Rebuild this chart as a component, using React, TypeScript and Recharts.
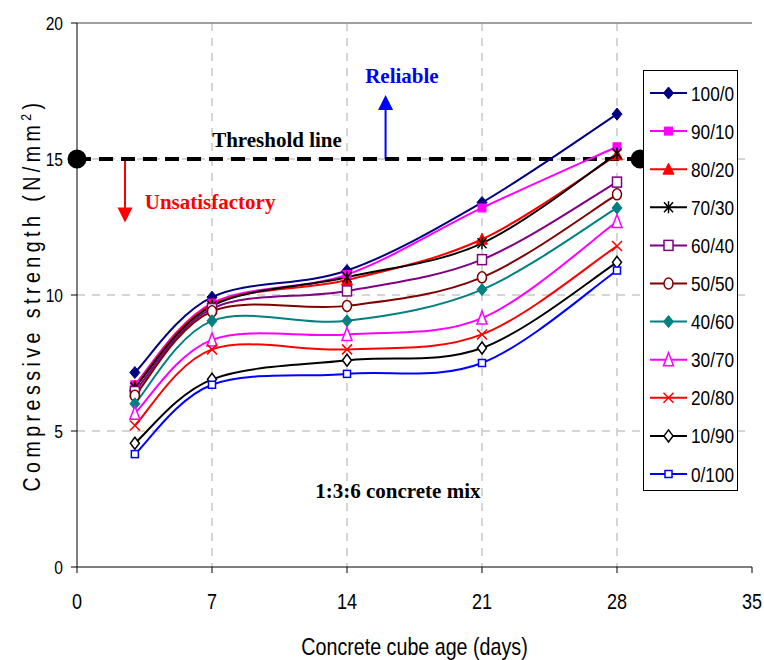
import React from "react";
import {
  CartesianGrid,
  Legend,
  Line,
  LineChart,
  ReferenceDot,
  ReferenceLine,
  XAxis,
  YAxis,
} from "recharts";

// curing age of the cubes (days)
const DAYS = [3, 7, 14, 21, 28];
const X_TICKS = [0, 7, 14, 21, 28, 35];
const Y_TICKS = [0, 5, 10, 15, 20];

// mix ratios, in legend order
const MIXES = ["100/0", "90/10", "80/20", "70/30", "60/40", "50/50", "40/60", "30/70", "20/80", "10/90", "0/100"];

// compressive strength (N/mm2) at 3, 7, 14, 21, 28 days
const S_100_0 = [7.15, 9.92, 10.9, 13.4, 16.65];
const S_90_10 = [6.7, 9.7, 10.75, 13.2, 15.45];
const S_80_20 = [6.65, 9.65, 10.55, 12.05, 15.15];
const S_70_30 = [6.6, 9.6, 10.65, 11.9, 15.2];
const S_60_40 = [6.45, 9.5, 10.15, 11.3, 14.15];
const S_50_50 = [6.3, 9.4, 9.6, 10.65, 13.7];
const S_40_60 = [6.0, 9.05, 9.05, 10.2, 13.2];
const S_30_70 = [5.65, 8.35, 8.55, 9.15, 12.7];
const S_20_80 = [5.2, 8.0, 8.0, 8.55, 11.8];
const S_10_90 = [4.55, 6.9, 7.6, 8.05, 11.2];
const S_0_100 = [4.15, 6.7, 7.1, 7.5, 10.9];

const SERIES = [S_100_0, S_90_10, S_80_20, S_70_30, S_60_40, S_50_50, S_40_60, S_30_70, S_20_80, S_10_90, S_0_100];

const COLORS = ["#000080", "#ff00ff", "#ff0000", "#000000", "#800080", "#800000", "#008080", "#ff00ff", "#ff0000", "#000000", "#0000ff"];
const MARKERS = ["diamond", "square", "triangle", "star", "squareOpen", "circleOpen", "diamond", "triangleOpen", "cross", "diamondOpen", "squareSmall"];

// threshold line
const THRESHOLD_DAYS = [0, 29.2];
const THRESHOLD = 15;

const SANS = "'Liberation Sans', Arial, sans-serif";
const SERIF = "'Liberation Serif', 'Times New Roman', serif";
// the original text is set in a narrow face; squeeze Arial horizontally
const SQUEEZE = 0.82;

const chartData = DAYS.map((day, i) => {
  const row: Record<string, number> = { day };
  SERIES.forEach((s, k) => (row[`m${k}`] = s[i]));
  return row;
});

const thresholdData = THRESHOLD_DAYS.map((day) => ({ day, t: THRESHOLD }));

// Excel-style smoothed line (Catmull-Rom as cubic beziers)
const excelSmooth = (context: any) => {
  let xs: number[] = [];
  let ys: number[] = [];
  return {
    areaStart() {},
    areaEnd() {},
    lineStart() {
      xs = [];
      ys = [];
    },
    point(x: number, y: number) {
      xs.push(+x);
      ys.push(+y);
    },
    lineEnd() {
      const n = xs.length;
      if (!n) return;
      context.moveTo(xs[0], ys[0]);
      for (let i = 0; i < n - 1; i++) {
        const a = Math.max(i - 1, 0);
        const d = Math.min(i + 2, n - 1);
        context.bezierCurveTo(
          xs[i] + (xs[i + 1] - xs[a]) / 6,
          ys[i] + (ys[i + 1] - ys[a]) / 6,
          xs[i + 1] - (xs[d] - xs[i]) / 6,
          ys[i + 1] - (ys[d] - ys[i]) / 6,
          xs[i + 1],
          ys[i + 1]
        );
      }
    },
  };
};

function Marker({ kind, x, y, color }: { kind: string; x: number; y: number; color: string }) {
  if (x == null || y == null) return null;
  switch (kind) {
    case "diamond":
      return <path d={`M${x},${y - 6}L${x + 5},${y}L${x},${y + 6}L${x - 5},${y}Z`} fill={color} stroke={color} />;
    case "diamondOpen":
      return <path d={`M${x},${y - 6}L${x + 4.5},${y}L${x},${y + 6}L${x - 4.5},${y}Z`} fill="#fff" stroke={color} strokeWidth={1.5} />;
    case "square":
      return <rect x={x - 4} y={y - 4} width={8} height={8} fill={color} stroke={color} />;
    case "squareOpen":
      return <rect x={x - 4.5} y={y - 5} width={9} height={10} fill="#fff" stroke={color} strokeWidth={1.5} />;
    case "squareSmall":
      return <rect x={x - 3.5} y={y - 3.5} width={7} height={7} fill="#fff" stroke={color} strokeWidth={1.5} />;
    case "triangle":
      return <path d={`M${x},${y - 6}L${x + 5.5},${y + 5}L${x - 5.5},${y + 5}Z`} fill={color} stroke={color} />;
    case "triangleOpen":
      return <path d={`M${x},${y - 7}L${x + 5},${y + 6}L${x - 5},${y + 6}Z`} fill="#fff" stroke={color} strokeWidth={1.5} />;
    case "star":
      return (
        <path
          d={`M${x - 4.5},${y - 5}L${x + 4.5},${y + 5}M${x + 4.5},${y - 5}L${x - 4.5},${y + 5}M${x},${y - 6}L${x},${y + 6}`}
          stroke={color}
          strokeWidth={1.5}
          fill="none"
        />
      );
    case "cross":
      return <path d={`M${x - 5},${y - 5}L${x + 5},${y + 5}M${x + 5},${y - 5}L${x - 5},${y + 5}`} stroke={color} strokeWidth={1.5} fill="none" />;
    case "circleOpen":
      return <ellipse cx={x} cy={y} rx={4.5} ry={5.5} fill="#fff" stroke={color} strokeWidth={1.5} />;
    default:
      return null;
  }
}

function MixLegend() {
  return (
    <svg width={93} height={419} style={{ display: "block" }}>
      {MIXES.map((name, i) => {
        const cy = 22 + i * 38.1;
        return (
          <g key={name}>
            <line x1={6} x2={43} y1={cy} y2={cy} stroke={COLORS[i]} strokeWidth={2} />
            <Marker kind={MARKERS[i]} x={24.5} y={cy} color={COLORS[i]} />
            <text transform={`translate(47,${cy + 7.5}) scale(${SQUEEZE},1)`} fontFamily={SANS} fontSize={21} fill="#000">
              {name}
            </text>
          </g>
        );
      })}
    </svg>
  );
}

const XTick = (p: any) => (
  <text transform={`translate(${p.x},${p.y + 15.5}) scale(${SQUEEZE},1)`} textAnchor="middle" fontFamily={SANS} fontSize={22} fill="#000">
    {p.payload.value}
  </text>
);

const YTick = (p: any) => (
  <text transform={`translate(${p.x},${p.y + 6.8}) scale(${SQUEEZE},1)`} textAnchor="end" fontFamily={SANS} fontSize={19} fill="#000">
    {p.payload.value}
  </text>
);

const note = (text: string, color: string) => (p: any) => (
  <text x={p.cx} y={p.cy} textAnchor="middle" fontFamily={SERIF} fontWeight="bold" fontSize={21} fill={color}>
    {text}
  </text>
);

const arrowHead = (color: string, dir: 1 | -1) => (p: any) => (
  <path d={`M${p.cx},${p.cy}L${p.cx + 7.5},${p.cy - dir * 15}L${p.cx - 7.5},${p.cy - dir * 15}Z`} fill={color} />
);

const YTitle = (props: any) => {
  const vb = props.viewBox || { x: 0, y: 23, width: 77, height: 544 };
  const cx = 40;
  const cy = vb.y + vb.height / 2;
  return (
    <text
      transform={`translate(${cx},${cy}) rotate(-90) scale(${SQUEEZE},1)`}
      textAnchor="middle"
      fontFamily={SANS}
      fontSize={24}
      letterSpacing={5.4}
      fill="#000"
    >
      Compressive strength (N/mm
      <tspan dy={-9} fontSize={15}>
        2
      </tspan>
      <tspan dy={9}>)</tspan>
    </text>
  );
};

const XTitle = (props: any) => {
  const vb = props.viewBox || { x: 77, y: 567, width: 675, height: 93 };
  return (
    <text
      transform={`translate(${vb.x + vb.width / 2},${vb.y + 88}) scale(${SQUEEZE},1)`}
      textAnchor="middle"
      fontFamily={SANS}
      fontSize={24}
      fill="#000"
    >
      Concrete cube age (days)
    </text>
  );
};

export default function App() {
  return (
    <div style={{ position: "absolute", left: 0, top: 0, width: 764, height: 660, background: "#fff" }}>
      <LineChart width={764} height={660} data={chartData} margin={{ top: 23, right: 12, bottom: 0, left: 0 }}>
        <CartesianGrid
          horizontalValues={[5, 10, 15]}
          verticalValues={[7, 14, 21, 28]}
          stroke="#c8c8c8"
          strokeWidth={1.5}
          strokeDasharray="8 7"
        />
        <ReferenceLine y={20} stroke="#808080" strokeWidth={1.5} />
        <XAxis
          type="number"
          dataKey="day"
          domain={[0, 35]}
          ticks={X_TICKS}
          height={93}
          stroke="#000"
          tickSize={6}
          tickMargin={20}
          tick={XTick}
          label={{ content: XTitle }}
        />
        <YAxis
          type="number"
          domain={[0, 20]}
          ticks={Y_TICKS}
          width={77}
          stroke="#000"
          tickSize={6}
          tickMargin={8}
          tick={YTick}
          label={{ content: YTitle }}
        />

        {/* arrows and notes */}
        <ReferenceLine segment={[{ x: 2.49, y: 15 }, { x: 2.49, y: 13.2 }]} stroke="#ff0000" strokeWidth={2} />
        <ReferenceDot x={2.49} y={12.67} shape={arrowHead("#ff0000", 1)} />
        <ReferenceLine segment={[{ x: 16.0, y: 15 }, { x: 16.0, y: 16.8 }]} stroke="#0000ff" strokeWidth={2} />
        <ReferenceDot x={16.0} y={17.35} shape={arrowHead("#0000ff", -1)} />
        <ReferenceDot x={16.85} y={17.79} shape={note("Reliable", "#0000ff")} />
        <ReferenceDot x={10.37} y={15.44} shape={note("Threshold line", "#000000")} />
        <ReferenceDot x={6.9} y={13.15} shape={note("Unsatisfactory", "#ff0000")} />
        <ReferenceDot x={16.64} y={2.54} shape={note("1:3:6 concrete mix", "#000000")} />

        <Line
          data={thresholdData}
          dataKey="t"
          stroke="#000"
          strokeWidth={4}
          strokeDasharray="14 8"
          dot={{ r: 7.5, fill: "#000", stroke: "#000", strokeDasharray: "" }}
          isAnimationActive={false}
          legendType="none"
        />

        {MIXES.map((name, k) => (
          <Line
            key={name}
            name={name}
            dataKey={`m${k}`}
            type={excelSmooth as any}
            stroke={COLORS[k]}
            strokeWidth={2}
            dot={(p: any) => <Marker key={`${name}-${p.index}`} kind={MARKERS[k]} x={p.cx} y={p.cy} color={COLORS[k]} />}
            activeDot={false}
            isAnimationActive={false}
          />
        ))}

        <Legend
          layout="horizontal"
          verticalAlign="middle"
          align="center"
          wrapperStyle={{
            left: 643,
            top: 70,
            width: 95,
            height: 421,
            border: "1px solid #000",
            background: "#fff",
            boxSizing: "border-box",
          }}
          content={() => <MixLegend />}
        />
      </LineChart>
    </div>
  );
}
